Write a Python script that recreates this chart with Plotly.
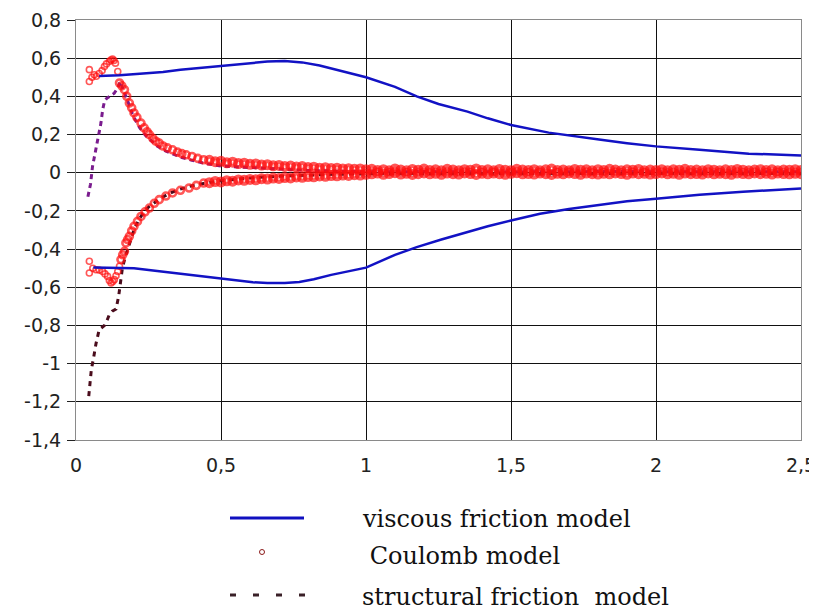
import plotly.graph_objects as go

# ---------------- data ----------------
x_tick_vals = [0, 0.5, 1, 1.5, 2, 2.5]
x_tick_text = ["0", "0,5", "1", "1,5", "2", "2,5"]
y_tick_vals = [0.8, 0.6, 0.4, 0.2, 0, -0.2, -0.4, -0.6, -0.8, -1.0, -1.2, -1.4]
y_tick_text = ["0,8", "0,6", "0,4", "0,2", "0", "-0,2", "-0,4", "-0,6", "-0,8", "-1", "-1,2", "-1,4"]

# viscous friction model (upper and lower envelope)
visc_x_upper = [0.08, 0.15, 0.22, 0.3, 0.36, 0.43, 0.5, 0.58, 0.66, 0.72, 0.78, 0.84, 0.9, 0.95, 1.0,
                1.1, 1.175, 1.25, 1.35, 1.42, 1.5, 1.63, 1.72, 1.81, 1.9, 2.0, 2.15, 2.32, 2.5]
visc_y_upper = [0.507, 0.51, 0.518, 0.528, 0.54, 0.55, 0.56, 0.572, 0.582, 0.585, 0.578, 0.562, 0.54, 0.52, 0.5,
                0.45, 0.40, 0.36, 0.32, 0.285, 0.25, 0.21, 0.19, 0.173, 0.155, 0.138, 0.12, 0.10, 0.09]
visc_x_lower = [0.06, 0.13, 0.2, 0.28, 0.36, 0.43, 0.5, 0.56, 0.61, 0.66, 0.72, 0.77, 0.82, 0.88, 0.94, 1.0,
                1.1, 1.175, 1.26, 1.35, 1.42, 1.5, 1.6, 1.7, 1.8, 1.9, 2.0, 2.15, 2.3, 2.5]
visc_y_lower = [-0.496, -0.498, -0.5, -0.515, -0.53, -0.543, -0.555, -0.565, -0.574, -0.578, -0.578, -0.572,
                -0.558, -0.535, -0.515, -0.497, -0.43, -0.39, -0.35, -0.31, -0.28, -0.25, -0.215, -0.19,
                -0.17, -0.15, -0.136, -0.115, -0.1, -0.082]

# Coulomb model (measured points)
coul_x_upper_start = [0.046, 0.046, 0.055, 0.063, 0.07, 0.08, 0.09, 0.098, 0.105, 0.115, 0.12, 0.126, 0.131,
                      0.136, 0.144, 0.15, 0.158, 0.167, 0.175, 0.184, 0.192, 0.2, 0.21, 0.224, 0.235, 0.245,
                      0.253, 0.265, 0.275, 0.287, 0.3, 0.315, 0.333, 0.35, 0.365, 0.38, 0.4, 0.42, 0.44]
coul_y_upper_start = [0.54, 0.478, 0.5, 0.513, 0.505, 0.52, 0.535, 0.556, 0.57, 0.583, 0.59, 0.595, 0.588,
                      0.574, 0.53, 0.47, 0.455, 0.435, 0.4, 0.365, 0.34, 0.313, 0.29, 0.26, 0.235, 0.215,
                      0.2, 0.18, 0.165, 0.155, 0.14, 0.13, 0.12, 0.108, 0.1, 0.094, 0.085, 0.075, 0.068]
coul_y_upper_band = [
    0.065, 0.058, 0.06, 0.052, 0.055, 0.048, 0.05, 0.044, 0.046, 0.04, 0.042, 0.036, 0.038, 0.033,
    0.035, 0.03, 0.032, 0.027, 0.029, 0.024, 0.026, 0.022, 0.024, 0.02, 0.021, 0.018, 0.02, 0.016,
    0.018, 0.012, 0.016, 0.01, 0.02, 0.014, 0.011, 0.017, 0.013, 0.019,
    0.012, 0.015, 0.01, 0.018, 0.014, 0.011, 0.016, 0.013, 0.02, 0.012,
    0.015, 0.01, 0.017, 0.013, 0.011, 0.018, 0.014, 0.012, 0.016, 0.01,
    0.015, 0.019, 0.012, 0.014, 0.011, 0.017, 0.013, 0.015, 0.01, 0.016,
    0.012, 0.018, 0.014, 0.011, 0.015, 0.013, 0.017, 0.01, 0.014, 0.012,
    0.016, 0.011, 0.015, 0.013, 0.018, 0.012, 0.014, 0.01, 0.016, 0.013,
    0.011, 0.015, 0.012, 0.017, 0.013, 0.01, 0.014, 0.016, 0.012, 0.015,
    0.011, 0.014, 0.013, 0.016, 0.012]
coul_x_lower_start = [0.046, 0.046, 0.058, 0.069, 0.08, 0.092, 0.1, 0.109, 0.115, 0.121, 0.127, 0.132, 0.138,
                      0.144, 0.15, 0.155, 0.161, 0.167, 0.172, 0.178, 0.184, 0.192, 0.2, 0.212, 0.224, 0.238,
                      0.253, 0.27, 0.287, 0.31, 0.333, 0.36, 0.39, 0.415, 0.44]
coul_y_lower_start = [-0.464, -0.525, -0.5, -0.508, -0.51, -0.517, -0.53, -0.543, -0.565, -0.577, -0.57, -0.56,
                      -0.54, -0.517, -0.49, -0.455, -0.43, -0.412, -0.368, -0.35, -0.333, -0.305, -0.281,
                      -0.255, -0.229, -0.205, -0.185, -0.16, -0.141, -0.122, -0.106, -0.092, -0.08, -0.066, -0.054]
coul_y_lower_band = [
    -0.052, -0.046, -0.048, -0.042, -0.044, -0.038, -0.04, -0.035, -0.037, -0.031, -0.033, -0.028, -0.03,
    -0.025, -0.027, -0.022, -0.024, -0.02, -0.021, -0.017, -0.019, -0.015, -0.016, -0.012, -0.014, -0.01,
    -0.012, -0.008,
    -0.006, -0.002, -0.008, -0.004, 0.0, -0.007, -0.003, -0.009, -0.005, -0.001,
    -0.006, -0.003, -0.008, -0.002, -0.005, -0.007, -0.001, -0.004, -0.009, -0.003,
    -0.006, -0.002, -0.005, -0.008, -0.003, 0.0, -0.006, -0.004, -0.007, -0.002,
    -0.005, -0.009, -0.003, -0.006, -0.001, -0.004, -0.008, -0.002, -0.005, -0.007,
    -0.003, -0.006, -0.001, -0.004, -0.008, -0.002, -0.005, -0.003, -0.007, -0.004,
    -0.001, -0.006, -0.003, -0.008, -0.002, -0.005, -0.004, -0.007, -0.001, -0.006,
    -0.003, -0.005, -0.008, -0.002, -0.004, -0.006, -0.001, -0.005, -0.003, -0.007,
    -0.002, -0.004, -0.006, -0.003, -0.005]
band_x = [round(0.46 + 0.02 * i, 3) for i in range(len(coul_y_upper_band))]

# structural friction model
struct_x_upper = [0.041, 0.05, 0.057, 0.063, 0.069, 0.074, 0.078, 0.082, 0.086, 0.092, 0.098, 0.106, 0.115,
                  0.124, 0.132, 0.14, 0.146, 0.152, 0.158, 0.167, 0.176, 0.184, 0.194, 0.205, 0.22, 0.24,
                  0.26, 0.28, 0.3, 0.33, 0.36, 0.4, 0.44, 0.5, 0.56, 0.62, 0.7, 0.8, 0.9, 1.0, 1.2, 1.5,
                  1.8, 2.1, 2.5]
struct_y_upper = [-0.126, -0.06, 0.033, 0.08, 0.12, 0.16, 0.19, 0.225, 0.26, 0.33, 0.373, 0.39, 0.4, 0.41,
                  0.417, 0.435, 0.452, 0.478, 0.45, 0.42, 0.385, 0.35, 0.31, 0.275, 0.235, 0.195, 0.165,
                  0.14, 0.12, 0.1, 0.082, 0.065, 0.05, 0.035, 0.03, 0.025, 0.02, 0.012, 0.008, 0.005,
                  0.006, 0.004, 0.006, 0.004, 0.005]
struct_x_lower = [0.044, 0.048, 0.053, 0.06, 0.069, 0.08, 0.09, 0.098, 0.108, 0.115, 0.125, 0.138, 0.147,
                  0.153, 0.16, 0.17, 0.178, 0.19, 0.2, 0.215, 0.23, 0.25, 0.27, 0.29, 0.32, 0.35, 0.39,
                  0.44, 0.5, 0.56, 0.62, 0.7, 0.8, 0.9, 1.0, 1.2, 1.5, 1.8, 2.1, 2.5]
struct_y_lower = [-1.17, -1.1, -1.03, -0.975, -0.895, -0.822, -0.81, -0.8, -0.77, -0.743, -0.725, -0.714,
                  -0.648, -0.569, -0.5, -0.44, -0.403, -0.35, -0.3, -0.25, -0.215, -0.18, -0.155, -0.135,
                  -0.11, -0.09, -0.072, -0.056, -0.042, -0.032, -0.025, -0.018, -0.012, -0.008, -0.006,
                  -0.005, -0.004, -0.005, -0.004, -0.004]

legend_labels = ["viscous friction model", " Coulomb model", "structural friction  model"]

# ---------------- figure ----------------
BLUE = "#1212c4"
RED = "#ff1010"
PURPLE = "#7a1c8e"
MAROON = "#4a0c1c"

fig = go.Figure()

fig.add_trace(go.Scatter(x=struct_x_upper, y=struct_y_upper, mode="lines",
                         line=dict(color=PURPLE, width=3, dash="5px,4px"), showlegend=False))
fig.add_trace(go.Scatter(x=struct_x_lower, y=struct_y_lower, mode="lines",
                         line=dict(color=MAROON, width=3, dash="5px,5px"), showlegend=False))

for xs, ys, n_start in [(coul_x_upper_start + band_x, coul_y_upper_start + coul_y_upper_band, len(coul_x_upper_start)),
                        (coul_x_lower_start + band_x, coul_y_lower_start + coul_y_lower_band, len(coul_x_lower_start))]:
    sizes = [6] * 15 + [7] * (n_start - 15) + [7] * (len(xs) - n_start)
    widths = [1.6] * 15 + [2.6] * (n_start - 15) + [4] * (len(xs) - n_start)
    fig.add_trace(go.Scatter(x=xs, y=ys, mode="markers",
                             marker=dict(symbol="circle-open", size=sizes, color=RED,
                                         line=dict(width=widths, color=RED)),
                             showlegend=False))

fig.add_trace(go.Scatter(x=visc_x_upper + [None] + visc_x_lower,
                         y=visc_y_upper + [None] + visc_y_lower,
                         mode="lines", line=dict(color=BLUE, width=2.5), showlegend=False))

# ------------- layout (page has an 8px body margin) -------------
OFF = 8
W, H = 817 - OFF, 612 - OFF
L, R, T, B = 76, 801, 20, 440      # target plot-area pixels in the final 817x612 picture
def px(xp):
    return (xp - L) / (R - L)
def py(yp):
    return (B - yp) / (B - T)

shapes = [
    dict(type="line", xref="paper", yref="paper", x0=px(230), x1=px(304), y0=py(518), y1=py(518),
         line=dict(color="#1010c0", width=3)),
    dict(type="circle", xref="paper", yref="paper", x0=px(259.5), x1=px(264.5), y0=py(549.5), y1=py(554.5),
         line=dict(color="#8b1a1a", width=1)),
    dict(type="line", xref="paper", yref="paper", x0=px(230), x1=px(306), y0=py(595), y1=py(595),
         line=dict(color="#3a2028", width=3, dash="6px,17px")),
]
annotations = []
for label, ypix in zip(legend_labels, [519, 556, 597]):
    annotations.append(dict(text=label, xref="paper", yref="paper", x=px(360), y=py(ypix),
                            xanchor="left", yanchor="middle", showarrow=False,
                            font=dict(family="DejaVu Serif", size=24, color="#111111")))

fig.update_layout(
    width=W, height=H,
    margin=dict(l=L - OFF, r=817 - R, t=T - OFF, b=612 - B, autoexpand=False),
    paper_bgcolor="white", plot_bgcolor="white",
    separators=", ",
    shapes=shapes, annotations=annotations,
    showlegend=False,
    font=dict(family="DejaVu Sans", size=20, color="#222222"),
)
fig.update_xaxes(range=[0, 2.5], tickvals=x_tick_vals, ticktext=x_tick_text, automargin=False,
                 showgrid=True, gridcolor="#111111", gridwidth=1,
                 showline=True, linecolor="#8a8a8a", linewidth=1, mirror=True,
                 zeroline=False, ticks="", ticklabelstandoff=8,
                 tickfont=dict(family="DejaVu Sans", size=19, color="#222222"))
fig.update_yaxes(range=[-1.4, 0.8], tickvals=y_tick_vals, ticktext=y_tick_text, automargin=False,
                 showgrid=True, gridcolor="#111111", gridwidth=1,
                 showline=True, linecolor="#8a8a8a", linewidth=1, mirror=True,
                 zeroline=True, zerolinecolor="#111111", zerolinewidth=1,
                 ticks="outside", ticklen=8, tickcolor="#222222", ticklabelstandoff=2,
                 tickfont=dict(family="DejaVu Sans", size=19, color="#222222"))

fig.write_html("out.html")
